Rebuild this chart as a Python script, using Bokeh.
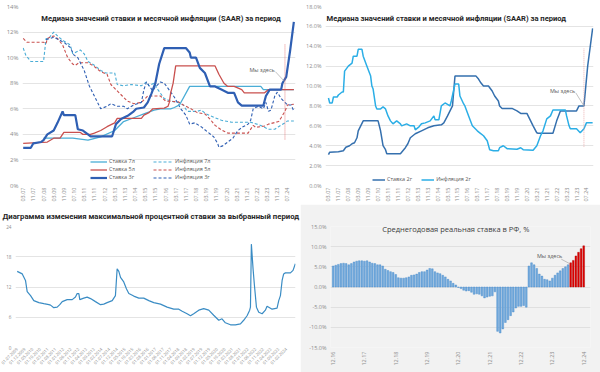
import math
from bokeh.plotting import figure
from bokeh.layouts import column, row
from bokeh.models import (Legend, LegendItem, Label, FixedTicker, PrintfTickFormatter,
                          ColumnDataSource, Range1d)
from bokeh.embed import file_html
from bokeh.resources import INLINE

# ======================= DATA =======================
# --- top charts: month index counted from 03.07 ---
TOP_BASE = "03.07"
TOP_LAST = "12.24"
TOP_HERE = "05.24"
TOP_TICK_LABELS = ["03.07", "11.07", "07.08", "03.09", "11.09", "07.10", "03.11", "11.11",
                   "07.12", "03.13", "11.13", "07.14", "03.15", "11.15", "07.16", "03.17",
                   "11.17", "07.18", "03.19", "11.19", "07.20", "03.21", "11.21", "07.22",
                   "03.23", "11.23", "07.24"]

# Ставка 7л
S7_M = [16, 39, 51, 61, 72, 79, 87, 95, 103, 108, 116, 119, 123, 131, 187, 189, 213]
S7_V = [3.7, 3.7, 3.55, 3.8, 4.3, 5.0, 5.3, 5.6, 5.9, 6.0, 6.0, 6.1, 6.3, 7.75, 7.75, 7.5, 7.5]
# Ставка 5л
S5_M = [0, 19, 24, 29, 32, 45, 47, 53, 56, 61, 66, 72, 74, 93, 95, 99, 102, 111, 114, 115,
        116, 118, 120, 151, 154, 158, 161, 166, 172, 174, 190, 193, 213]
S5_V = [3.3, 3.4, 3.7, 3.7, 4.15, 4.15, 4.0, 4.0, 4.1, 4.3, 4.6, 4.9, 5.25, 5.25, 5.5, 5.7,
        6.0, 6.05, 6.2, 6.5, 7.2, 8.0, 9.35, 9.35, 8.7, 8.0, 7.75, 7.75, 7.5, 7.25, 7.25, 7.5, 7.5]
# Ставка 3г
S3_M = [0, 6, 8, 14, 16, 19, 24, 27, 31, 32, 41, 43, 47, 51, 53, 70, 73, 77, 83, 87, 89, 95,
        98, 101, 104, 107, 111, 128, 131, 132, 136, 139, 143, 147, 151, 156, 161, 166, 169,
        172, 189, 191, 194, 203, 204, 207, 210, 213]
S3_V = [2.95, 2.95, 3.3, 3.4, 3.55, 4.0, 4.3, 4.9, 5.8, 5.5, 5.5, 4.4, 4.3, 4.0, 3.85, 3.85,
        4.8, 5.2, 5.5, 5.8, 6.0, 6.1, 6.5, 7.2, 8.0, 9.5, 10.75, 10.75, 10.4, 10.0, 10.0, 9.2,
        8.8, 7.75, 7.75, 7.5, 7.25, 7.25, 6.5, 6.25, 6.25, 7.0, 7.5, 7.5, 8.0, 8.5, 10.5, 12.8]
# Инфляция 7л
I7_M = [0, 2, 6, 16, 18, 20, 24, 28, 32, 37, 39, 41, 45, 48, 51, 56, 61, 65, 72, 74, 79, 85,
        93, 97, 99, 103, 106, 111, 116, 122, 126, 129, 137, 140, 144, 151, 156, 164, 179, 187,
        193, 198, 201, 206, 208, 213]
I7_V = [10.75, 10.2, 9.7, 9.7, 11.5, 11.5, 12.0, 11.6, 11.3, 11.0, 10.3, 10.4, 10.6, 10.3, 9.7,
        9.4, 9.0, 8.8, 8.8, 7.9, 7.8, 7.9, 7.8, 8.1, 7.8, 8.0, 7.5, 6.8, 6.6, 6.5, 6.3, 5.8, 5.8,
        5.9, 5.6, 5.3, 5.1, 4.95, 4.95, 4.7, 4.4, 4.4, 4.6, 4.9, 5.05, 5.05]
# Инфляция 5л
I5_M = [0, 3, 16, 18, 19, 24, 27, 31, 35, 39, 41, 44, 51, 56, 61, 66, 69, 74, 78, 82, 87, 93,
        95, 98, 108, 112, 122, 126, 132, 137, 143, 147, 151, 156, 161, 177, 181, 183, 190, 193,
        201, 203, 206, 208, 213]
I5_V = [11.5, 11.2, 11.2, 11.1, 11.5, 11.7, 11.5, 11.0, 10.0, 9.5, 9.4, 9.6, 9.6, 9.3, 8.9, 8.7,
        7.9, 7.4, 7.0, 6.6, 6.4, 6.5, 6.7, 7.0, 7.0, 6.6, 6.55, 6.3, 6.0, 5.7, 5.6, 5.2, 4.7,
        4.35, 4.1, 4.1, 4.7, 4.55, 4.65, 4.8, 5.0, 5.3, 5.8, 6.3, 6.35]
# Инфляция 3г
I3_M = [18, 24, 32, 37, 40, 43, 48, 52, 56, 61, 66, 69, 74, 79, 82, 87, 93, 95, 97, 99, 102,
        104, 108, 111, 114, 119, 124, 128, 131, 135, 140, 145, 150, 153, 154, 157, 161, 165,
        169, 173, 177, 179, 181, 185, 189, 191, 193, 195, 198, 200, 203, 206, 208, 211, 213]
I3_V = [11.4, 11.6, 11.2, 10.8, 10.2, 10.0, 9.0, 7.8, 7.0, 6.0, 6.2, 6.4, 6.2, 6.2, 6.0, 6.3,
        6.5, 7.5, 8.1, 7.8, 7.4, 7.7, 8.1, 8.0, 7.6, 6.9, 6.0, 5.5, 4.8, 4.9, 4.6, 4.2, 3.8,
        3.3, 3.0, 3.1, 3.4, 3.7, 4.3, 4.6, 4.8, 5.1, 6.0, 6.2, 6.0, 6.5, 5.8, 5.9, 7.0, 7.3,
        6.8, 6.5, 6.3, 6.3, 5.8]
# Ставка 2г
R2_M = [0, 1, 8, 12, 14, 17, 19, 21, 23, 24, 26, 28, 40, 42, 44, 46, 47, 58, 60, 62, 64, 66,
        70, 75, 80, 85, 91, 93, 96, 98, 100, 102, 119, 121, 123, 125, 129, 132, 134, 137, 138,
        140, 148, 152, 155, 160, 163, 165, 168, 169, 181, 184, 187, 200, 202, 206, 209, 213]
R2_V = [3.1, 3.35, 3.4, 3.5, 3.85, 4.0, 4.2, 4.3, 4.8, 5.5, 6.0, 6.5, 6.5, 5.5, 4.0, 3.6, 3.2,
        3.2, 3.5, 3.8, 4.2, 4.8, 5.2, 5.5, 5.8, 6.0, 6.1, 6.3, 7.0, 7.5, 8.0, 11.0, 11.0, 10.7,
        10.3, 10.0, 10.0, 9.5, 9.0, 8.5, 8.0, 7.75, 7.75, 7.5, 7.25, 7.25, 6.5, 6.0, 5.3, 5.25,
        5.25, 6.5, 7.5, 7.5, 8.0, 8.0, 12.0, 15.8]
# Инфляция 2г
I2_M = [0, 1, 3, 4, 7, 8, 11, 12, 13, 16, 19, 20, 23, 24, 27, 28, 31, 34, 35, 36, 38, 39, 42,
        44, 46, 48, 50, 52, 55, 58, 59, 63, 66, 69, 70, 73, 75, 78, 82, 85, 86, 89, 91, 94, 98,
        99, 102, 105, 106, 109, 110, 113, 116, 120, 122, 125, 128, 130, 133, 137, 138, 141,
        144, 152, 155, 157, 165, 168, 171, 173, 176, 179, 181, 191, 192, 194, 195, 200, 203,
        206, 208, 213]
I2_V = [8.8, 8.3, 8.3, 8.9, 8.9, 9.1, 9.4, 9.4, 11.5, 12.0, 12.3, 13.0, 13.0, 13.7, 13.7, 13.0,
        12.0, 11.0, 10.0, 9.7, 8.0, 7.7, 7.7, 7.9, 7.7, 7.0, 6.5, 6.2, 6.5, 6.2, 6.0, 6.2, 6.0,
        6.0, 5.6, 5.9, 6.2, 6.3, 6.5, 7.0, 6.6, 6.6, 8.0, 8.3, 8.0, 8.5, 10.2, 10.2, 9.0, 8.2,
        8.0, 7.0, 6.0, 5.5, 5.3, 5.0, 4.5, 3.6, 3.5, 3.5, 3.8, 4.0, 3.7, 3.65, 3.8, 3.6, 3.55,
        4.0, 5.0, 5.5, 6.7, 7.0, 7.6, 7.6, 7.0, 6.0, 5.7, 5.7, 5.3, 5.7, 6.3, 6.3]

# --- bottom-left: max deposit rate, months since 07.2009 ---
BL_T = [0, 3.3, 5.4, 6.5, 8.7, 10.8, 14.1, 17.3, 20.6, 21.7, 23.8, 26, 27.7, 29.3, 32.5, 35.8,
        37.9, 39, 40.1, 40.7, 43.3, 45.5, 47.7, 50.9, 54.2, 56.3, 58.5, 61.8, 63.9, 65, 66.1,
        67.2, 69.3, 71.1, 72.6, 75.8, 79.1, 82.3, 85.6, 88.8, 93.2, 97.5, 101.8, 105.1, 107.3,
        110.5, 112.7, 114.8, 118.1, 121.3, 124.6, 127.8, 131.1, 133.2, 135.4, 138.7, 141.9,
        145.2, 147.3, 149.5, 151.2, 151.7, 152.3, 153.4, 154.3, 155.6, 157.1, 159.3, 161.4,
        162.5, 163.6, 165.8, 169, 170.1, 171.2, 172.3, 173.3, 174.4, 177.7, 179.4, 180.9]
BL_V = [15.1, 14.6, 13.3, 11.1, 10.3, 9.3, 8.9, 8.7, 8.5, 8.4, 7.9, 8.0, 8.5, 9.1, 9.5, 9.5,
        10.0, 10.7, 10.7, 9.5, 9.8, 10.0, 9.7, 9.1, 8.5, 8.6, 8.9, 9.3, 10.3, 15.6, 15.1, 13.9,
        13.0, 11.6, 10.7, 10.2, 9.8, 9.8, 9.3, 8.9, 8.6, 8.0, 7.6, 7.6, 7.2, 6.7, 6.3, 6.7, 7.4,
        7.7, 7.4, 6.4, 5.4, 5.7, 4.9, 4.5, 4.5, 4.7, 5.4, 6.3, 7.4, 8.0, 20.5, 15.6, 12.3, 8.0,
        7.0, 6.7, 7.4, 8.2, 8.0, 7.6, 7.8, 9.3, 10.3, 13.3, 14.6, 14.8, 14.8, 15.3, 16.6]
BL_BASE = "07.2009"
BL_TICK_LABELS = ["01.07.2009", "01.12.2009", "01.05.2010", "01.10.2010", "01.03.2011",
                  "01.08.2011", "01.01.2012", "01.06.2012", "01.11.2012", "01.04.2013",
                  "01.09.2013", "01.02.2014", "01.07.2014", "01.12.2014", "01.05.2015",
                  "01.10.2015", "01.03.2016", "01.08.2016", "01.01.2017", "01.06.2017",
                  "01.11.2017", "01.04.2018", "01.09.2018", "01.02.2019", "01.07.2019",
                  "01.12.2019", "01.05.2020", "01.10.2020", "01.03.2021", "01.08.2021",
                  "01.01.2022", "01.06.2022", "01.11.2022", "01.04.2023", "01.09.2023",
                  "01.02.2024"]

# --- bottom-right: average annual real rate, monthly from 12.16 ---
BR_BASE = "12.16"
BR_VALUES = [5.2, 5.4, 5.6, 5.8, 5.9, 5.8, 5.5, 5.8, 6.2, 6.4,
             6.5, 6.5, 6.4, 6.5, 6.2, 5.9, 5.8, 5.5, 5.5, 5.2,
             4.4, 4.1, 3.8, 3.6, 3.1, 2.3, 2.2, 2.2, 2.3, 2.5,
             2.9, 3.0, 3.2, 3.6, 3.8, 3.8, 4.2, 4.6, 4.5, 3.8,
             3.5, 3.3, 2.9, 2.5, 1.9, 1.5, 0.9, 0.5, -0.1, -0.4,
             -0.8, -1.0, -0.9, -1.3, -1.8, -1.7, -1.8, -2.2, -2.7, -2.5,
             -2.3, -2.2, -1.2, -11.0, -11.4, -10.4, -8.8, -8.1, -7.1, -6.2,
             -5.2, -4.8, -4.8, -4.6, -5.0, 5.2, 6.0, 5.5, 4.6, 3.2,
             2.7, 1.9, 1.8, 1.5, 2.2, 2.9, 3.5, 4.0, 4.6, 5.0,
             5.5, 6.0, 6.6, 7.7, 8.6, 9.5, 10.2]
BR_FORECAST_FROM = "07.24"
BR_HERE = "06.24"
BR_TICK_LABELS = ["12.16", "12.17", "12.18", "12.19", "12.20", "12.21", "12.22", "12.23", "12.24"]

# ======================= STYLE =======================
FONT = "Open Sans"
TFONT = "Roboto"
GRID = "#D9D9D9"
TICK = "#8C8C8C"
TXT = "#595959"
TITLE = "#262626"
C7 = "#4AADD6"
C5 = "#C9504E"
C3 = "#2F5FB3"
C2R = "#3570AE"
C2I = "#2BAEE6"
CBL = "#3A8CC4"
BAR_BLUE = "#73AADC"
BAR_BLUE_LINE = "#3F87CA"
BAR_RED = "#E00000"
BAR_RED_LINE = "#A80000"
PANEL_GREY = "#F2F2F2"
DASH = "3 2"


def month_index(lbl, base):
    mm, yy = map(int, lbl.split("."))
    bm, by = map(int, base.split("."))
    return (yy - by) * 12 + (mm - bm)


def shift_month(base, k):
    mm, yy = map(int, base.split("."))
    t = (mm - 1) + k
    return f"{t % 12 + 1:02d}.{(yy + t // 12) % 100:02d}"


def base_fig(w, h, xr, yr, left, right, top, bottom, bg="white"):
    p = figure(width=w, height=h, x_range=xr, y_range=yr, output_backend="svg",
               toolbar_location=None, min_border_left=left, min_border_right=right,
               min_border_top=top, min_border_bottom=bottom)
    p.outline_line_color = None
    p.background_fill_color = bg
    p.border_fill_color = bg
    p.xgrid.grid_line_color = None
    p.ygrid.grid_line_color = GRID
    p.ygrid.grid_line_width = 0.7
    for ax in (p.xaxis, p.yaxis):
        ax.axis_line_color = None
        ax.major_tick_line_color = None
        ax.minor_tick_line_color = None
        ax.major_tick_out = 0
        ax.major_tick_in = 0
        ax.minor_tick_out = 0
        ax.minor_tick_in = 0
        ax.major_label_text_color = TICK
        ax.major_label_text_font = FONT
    return p


def set_y(p, ticks, fmt, size):
    t = FixedTicker(ticks=ticks)
    p.yaxis.ticker = t
    p.ygrid.ticker = t
    p.yaxis.formatter = PrintfTickFormatter(format=fmt)
    p.yaxis.major_label_text_font_size = size
    p.yaxis.major_label_standoff = 4


def set_x(p, positions, labels, size, orient):
    p.xaxis.ticker = FixedTicker(ticks=positions)
    p.xaxis.major_label_overrides = {pos: lab for pos, lab in zip(positions, labels)}
    p.xaxis.major_label_text_font_size = size
    p.xaxis.major_label_orientation = orient
    p.xaxis.major_label_standoff = 2


def legend(items, loc, orientation="vertical", gw=17, spacing=0):
    return Legend(items=items, location=loc, orientation=orientation,
                  label_text_font=FONT, label_text_font_size="5.5px",
                  label_text_color=TXT, glyph_width=gw, glyph_height=7,
                  label_height=7, label_standoff=2, spacing=spacing, padding=0,
                  margin=0, background_fill_alpha=0, border_line_color=None)


last_top = month_index(TOP_LAST, TOP_BASE)
here_top = month_index(TOP_HERE, TOP_BASE)
top_ticks = [month_index(l, TOP_BASE) for l in TOP_TICK_LABELS]
TOP_TITLE = "Медиана значений ставки и месячной инфляции (SAAR) за период"

# ======================= TOP LEFT =======================
p1 = base_fig(300, 204, Range1d(-0.55, 214.3), Range1d(0, 14), 22, 5, 6, 18)
set_y(p1, list(range(0, 15, 2)), "%d%%", "6px")
set_x(p1, top_ticks, TOP_TICK_LABELS, "5.5px", math.pi / 2)

ri7 = p1.line(I7_M, I7_V, line_color=C7, line_width=1.1, line_dash=DASH)
ri5 = p1.line(I5_M, I5_V, line_color=C5, line_width=1.1, line_dash=DASH)
ri3 = p1.line(I3_M, I3_V, line_color=C3, line_width=1.1, line_dash=DASH)
rs7 = p1.line(S7_M, S7_V, line_color=C7, line_width=1.3)
rs5 = p1.line(S5_M, S5_V, line_color=C5, line_width=1.3)
rs3 = p1.line(S3_M, S3_V, line_color=C3, line_width=2.2)

p1.segment(x0=[here_top], y0=[3.6], x1=[here_top], y1=[11.1], line_color="#E06666",
           line_width=0.8, line_dash="1 1")
p1.segment(x0=[here_top - 7.5], y0=[8.9], x1=[here_top], y1=[8.1], line_color="#A6A6A6",
           line_width=0.7)
p1.add_layout(Label(x=here_top - 8, y=9.0, text="Мы здесь", text_align="right",
                    text_baseline="middle", text_font=FONT, text_font_size="5.5px",
                    text_color=TXT))
p1.add_layout(Label(x=108.5, y=13.1, text=TOP_TITLE,
                    text_align="center", text_baseline="middle", text_font=TFONT,
                    text_font_size="7.6px", text_font_style="bold", text_color=TITLE))
p1.add_layout(legend([LegendItem(label="Ставка 7л", renderers=[rs7]),
                      LegendItem(label="Ставка 5л", renderers=[rs5]),
                      LegendItem(label="Ставка 3г", renderers=[rs3])], (68, 4)))
p1.add_layout(legend([LegendItem(label="Инфляция 7л", renderers=[ri7]),
                      LegendItem(label="Инфляция 5л", renderers=[ri5]),
                      LegendItem(label="Инфляция 3г", renderers=[ri3])], (131, 4), gw=20))

# ======================= TOP RIGHT =======================
p2 = base_fig(300, 204, Range1d(-2.4, 213.7), Range1d(0, 18), 25, 7, 6, 18)
set_y(p2, list(range(0, 19, 2)), "%.1f%%", "5.5px")
set_x(p2, top_ticks, TOP_TICK_LABELS, "5.5px", math.pi / 2)

rr2 = p2.line(R2_M, R2_V, line_color=C2R, line_width=1.5)
ri2 = p2.line(I2_M, I2_V, line_color=C2I, line_width=1.5)
p2.segment(x0=[here_top], y0=[3.9], x1=[here_top], y1=[13.8], line_color="#E8A0A0",
           line_width=0.8, line_dash="1 1")
p2.segment(x0=[here_top - 6.5], y0=[9.3], x1=[here_top], y1=[8.0], line_color="#A6A6A6",
           line_width=0.7)
p2.add_layout(Label(x=here_top - 7, y=9.5, text="Мы здесь", text_align="right",
                    text_baseline="middle", text_font=FONT, text_font_size="5.5px",
                    text_color=TXT))
p2.add_layout(Label(x=-1.6, y=16.8, text=TOP_TITLE,
                    text_align="left", text_baseline="middle", text_font=TFONT,
                    text_font_size="7.6px", text_font_style="bold", text_color=TITLE))
p2.add_layout(legend([LegendItem(label="Ставка 2г", renderers=[rr2]),
                      LegendItem(label="Инфляция 2г", renderers=[ri2])], (47, 2),
                     orientation="horizontal", gw=13, spacing=9))

# ======================= BOTTOM LEFT =======================
p3 = base_fig(300, 168, Range1d(-1.1, 181.0), Range1d(0, 24), 15, 5, 22, 25)
set_y(p3, [0, 6, 12, 18, 24], "%d", "4.6px")
bl_ticks = [month_index(l[3:5] + "." + l[6:], BL_BASE) for l in BL_TICK_LABELS]
set_x(p3, bl_ticks, BL_TICK_LABELS, "4.2px", math.pi / 4)
p3.xaxis.major_label_standoff = 1
p3.line(BL_T, BL_V, line_color=CBL, line_width=1.2)
p3.title.text = "Диаграмма изменения максимальной процентной ставки за выбранный период"
p3.title.text_font = TFONT
p3.title.text_font_size = "7.75px"
p3.title.text_font_style = "bold"
p3.title.text_color = TITLE
p3.title.align = "left"
p3.title.offset = -13
p3.title.standoff = 11

# ======================= BOTTOM RIGHT =======================
n_br = len(BR_VALUES)
br_months = [shift_month(BR_BASE, i) for i in range(n_br)]
fc_from = month_index(BR_FORECAST_FROM, BR_BASE)
br_src = ColumnDataSource(dict(
    x=list(range(n_br)), v=BR_VALUES, m=br_months,
    fill=[BAR_RED if i >= fc_from else BAR_BLUE for i in range(n_br)],
    edge=[BAR_RED_LINE if i >= fc_from else BAR_BLUE_LINE for i in range(n_br)]))
p4 = base_fig(300, 168, Range1d(-1.0, 98.6), Range1d(-15, 15), 30, 10, 13, 25, bg=PANEL_GREY)
set_y(p4, [-15, -10, -5, 0, 5, 10, 15], "%.1f%%", "5.5px")
br_ticks = [month_index(l, BR_BASE) for l in BR_TICK_LABELS]
set_x(p4, br_ticks, BR_TICK_LABELS, "5.5px", math.pi / 2)
p4.xaxis.major_label_standoff = 4
p4.vbar(x="x", top="v", bottom=0, width=0.66, fill_color="fill", line_color="edge",
        line_width=0.4, source=br_src)
here_br = month_index(BR_HERE, BR_BASE)
p4.segment(x0=[here_br - 2.6], y0=[6.9], x1=[here_br + 0.6], y1=[5.8], line_color="#A6A6A6",
           line_width=0.7)
p4.add_layout(Label(x=here_br - 2.2, y=7.6, text="Мы здесь", text_align="right",
                    text_baseline="middle", text_font=FONT, text_font_size="5.5px",
                    text_color=TXT))
p4.add_layout(Label(x=47, y=14.3, text="Среднегодовая реальная ставка в РФ, %",
                    text_align="center", text_baseline="middle", text_font=FONT,
                    text_font_size="7.5px", text_color="#404040",
                    background_fill_color=PANEL_GREY))

layout = column(row(p1, p2), row(p3, p4))
open("out.html", "w").write(file_html(layout, INLINE))
